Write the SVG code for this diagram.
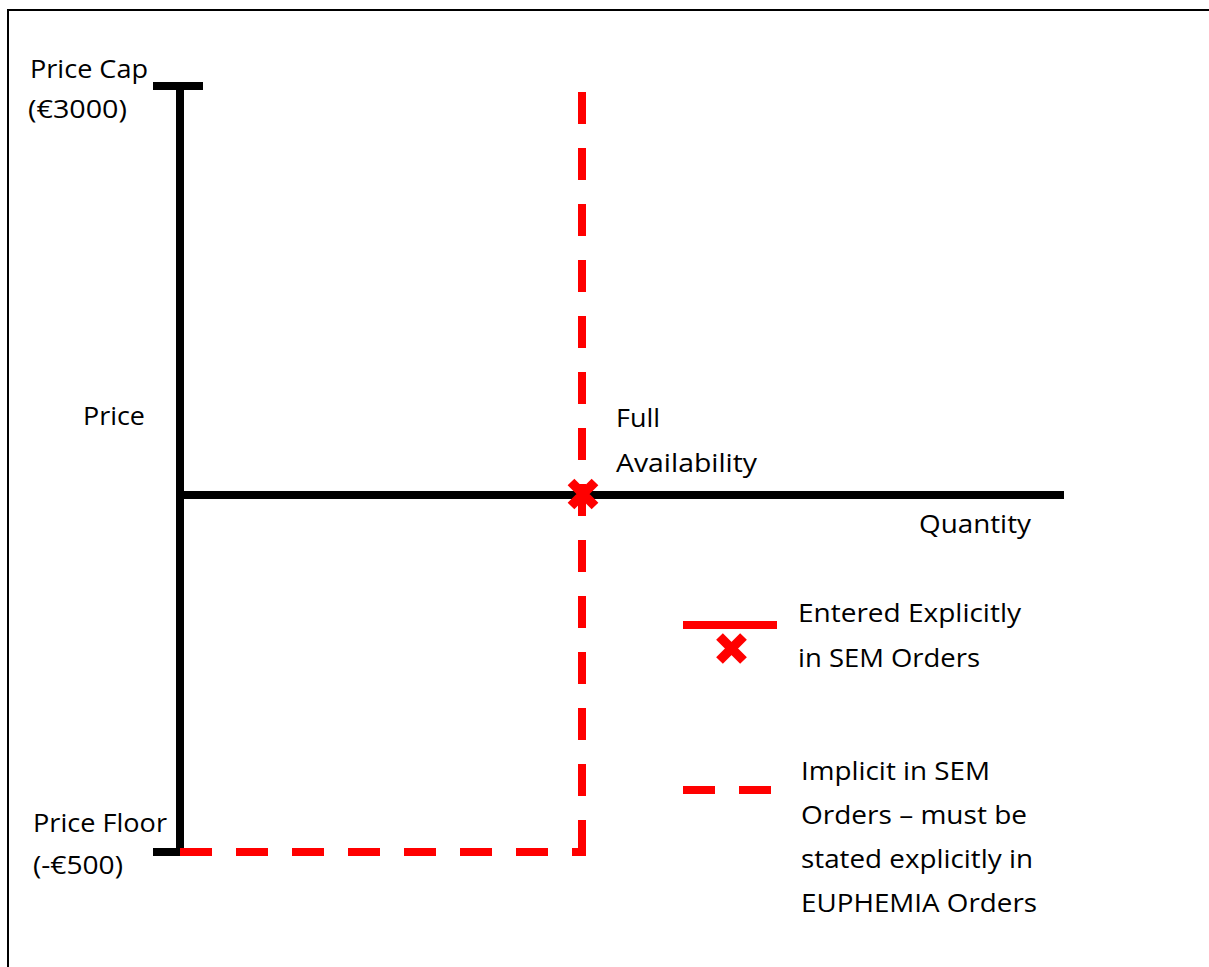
<svg xmlns="http://www.w3.org/2000/svg" width="1209" height="967" viewBox="0 0 1209 967">
  <style>
    .lbl { font-family: "Open Sans", "Liberation Sans", sans-serif; font-size: 25px; fill: #000; }
    .axis { stroke: #000; stroke-width: 8; fill: none; }
    .solid { stroke: #ff0000; stroke-width: 8; fill: none; }
    .dash { stroke: #ff0000; stroke-width: 8; fill: none; stroke-dasharray: 32 24; }
    .frame { stroke: #000; stroke-width: 2; fill: none; }
  </style>
  <defs>
    <path id="cross" d="M-12,-12 L12,12 M-12,12 L12,-12" stroke="#ff0000" stroke-width="9.5" fill="none"/>
  </defs>
  <rect width="1209" height="967" fill="#fff"/>
  <path class="frame" d="M8,967 L8,10 L1209,10"/>

  <g id="connectors">
    <!-- price axis with cap and floor ticks -->
    <path class="axis" d="M180,86 L180,856"/>
    <path class="axis" d="M153,86 L203,86"/>
    <path class="axis" d="M153,852 L184,852"/>
    <!-- quantity axis -->
    <path class="axis" d="M180,495 L1064,495"/>
    <!-- implicit curve: floor segment and full-availability vertical -->
    <path class="dash" d="M180,852 L586,852"/>
    <path class="dash" d="M582,92 L582,856"/>
  </g>

  <g id="full-availability">
    <use href="#cross" x="583" y="494"/>
    <text class="lbl" x="616" y="427" textLength="44" lengthAdjust="spacingAndGlyphs">Full</text>
    <text class="lbl" x="616" y="472" textLength="141" lengthAdjust="spacingAndGlyphs">Availability</text>
  </g>

  <g id="price-cap">
    <text class="lbl" x="30" y="78" textLength="118" lengthAdjust="spacingAndGlyphs">Price Cap</text>
    <text class="lbl" x="28" y="118" textLength="99" lengthAdjust="spacingAndGlyphs">(€3000)</text>
  </g>

  <g id="price-label">
    <text class="lbl" x="83" y="425" textLength="62" lengthAdjust="spacingAndGlyphs">Price</text>
  </g>

  <g id="quantity-label">
    <text class="lbl" x="919" y="533" textLength="112" lengthAdjust="spacingAndGlyphs">Quantity</text>
  </g>

  <g id="price-floor">
    <text class="lbl" x="33" y="832" textLength="134" lengthAdjust="spacingAndGlyphs">Price Floor</text>
    <text class="lbl" x="33" y="874" textLength="90" lengthAdjust="spacingAndGlyphs">(-€500)</text>
  </g>

  <g id="legend-explicit">
    <path class="solid" d="M683,625 L777,625"/>
    <use href="#cross" x="731.5" y="648.5"/>
    <text class="lbl" x="798" y="622" textLength="223" lengthAdjust="spacingAndGlyphs">Entered Explicitly</text>
    <text class="lbl" x="798" y="667" textLength="182" lengthAdjust="spacingAndGlyphs">in SEM Orders</text>
  </g>

  <g id="legend-implicit">
    <path class="dash" d="M683,790 L771,790"/>
    <text class="lbl" x="801" y="780" textLength="189" lengthAdjust="spacingAndGlyphs">Implicit in SEM</text>
    <text class="lbl" x="801" y="824" textLength="226" lengthAdjust="spacingAndGlyphs">Orders – must be</text>
    <text class="lbl" x="801" y="868" textLength="232" lengthAdjust="spacingAndGlyphs">stated explicitly in</text>
    <text class="lbl" x="801" y="912" textLength="236" lengthAdjust="spacingAndGlyphs">EUPHEMIA Orders</text>
  </g>
</svg>
